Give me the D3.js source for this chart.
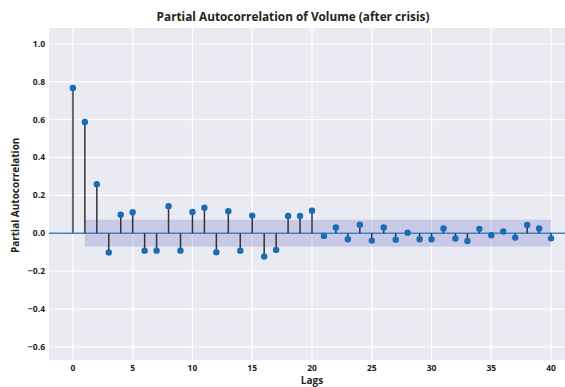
<!DOCTYPE html>
<html><head><meta charset="utf-8">
<script src="https://cdn.jsdelivr.net/npm/d3@7"></script>
<style>body{margin:0;background:#fff}text{font-family:"Open Sans",sans-serif;font-weight:bold;fill:#222}</style>
</head><body>
<svg id="c" width="565" height="387"></svg>
<script>
const lags = d3.range(0, 41);
const pacf = [0.767,0.587,0.259,-0.102,0.098,0.111,-0.092,-0.092,0.142,-0.092,
  0.112,0.135,-0.100,0.116,-0.092,0.093,-0.123,-0.088,0.091,0.091,
  0.119,-0.014,0.030,-0.032,0.045,-0.039,0.030,-0.034,0.003,-0.032,
  -0.032,0.025,-0.028,-0.041,0.023,-0.011,0.009,-0.023,0.044,0.025,-0.027];
const confBand = 0.071;
const xTicks = [0,5,10,15,20,25,30,35,40];
const yTicks = [-0.6,-0.4,-0.2,0.0,0.2,0.4,0.6,0.8,1.0];

const svg = d3.select("#c");
const pL = 49, pR = 575, pT = 28, pB = 360;
const x = d3.scaleLinear().domain([-2, 42]).range([pL, pR]);
const y = d3.scaleLinear().domain([-0.669, 1.083]).range([pB, pT]);

svg.append("rect").attr("x", pL).attr("y", pT).attr("width", pR-pL).attr("height", pB-pT).attr("fill", "#eaeaf2");
const g = svg.append("g");
g.selectAll(".gx").data(xTicks).join("line").attr("x1", d=>x(d)).attr("x2", d=>x(d)).attr("y1", pT).attr("y2", pB).attr("stroke", "#fff").attr("stroke-width", 1.2);
g.selectAll(".gy").data(yTicks).join("line").attr("y1", d=>y(d)).attr("y2", d=>y(d)).attr("x1", pL).attr("x2", pR).attr("stroke", "#fff").attr("stroke-width", 1.2);

svg.append("rect").attr("x", x(1)).attr("width", x(40)-x(1)).attr("y", y(confBand)).attr("height", y(-confBand)-y(confBand)).attr("fill", "rgba(100,100,200,0.25)");

svg.append("line").attr("x1", pL).attr("x2", pR).attr("y1", y(0)).attr("y2", y(0)).attr("stroke", "#3d84c4").attr("stroke-width", 1.5);

svg.selectAll(".stem").data(lags).join("line")
  .attr("x1", d=>x(d)).attr("x2", d=>x(d)).attr("y1", y(0)).attr("y2", d=>y(pacf[d]))
  .attr("stroke", d=> d===0 ? "#666" : "#333").attr("stroke-width", d=> d===0 ? 2 : 1.5);
svg.selectAll(".pt").data(lags).join("circle")
  .attr("cx", d=>x(d)).attr("cy", d=>y(pacf[d])).attr("r", 3.2).attr("fill", "#1a6cb4");

svg.selectAll(".xl").data(xTicks).join("text").attr("x", d=>x(d)).attr("y", 371).attr("text-anchor", "middle").attr("font-size", 8.5).text(d=>d);
svg.selectAll(".yl").data(yTicks).join("text").attr("x", 45).attr("y", d=>y(d)+3).attr("text-anchor", "end").attr("font-size", 8.5).text(d=>d3.format(".1f")(d));

svg.append("text").attr("x", 312).attr("y", 384).attr("text-anchor", "middle").attr("font-size", 10).text("Lags");
svg.append("text").attr("transform", "translate(19," + y(0.2) + ") rotate(-90)").attr("text-anchor", "middle").attr("font-size", 10).text("Partial Autocorrelation");
svg.append("text").attr("x", 293).attr("y", 21).attr("text-anchor", "middle").attr("font-size", 11.8).text("Partial Autocorrelation of Volume (after crisis)");
</script>
</body></html>
